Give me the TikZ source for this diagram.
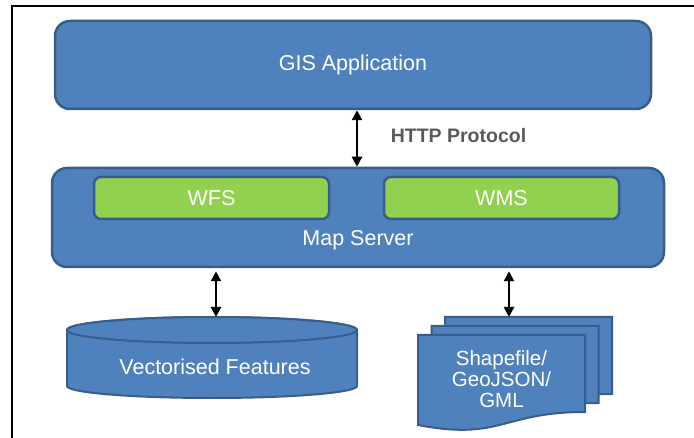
\documentclass[tikz,border=0pt]{standalone}
\usepackage{fontspec}
\setmainfont{Liberation Sans}
\usetikzlibrary{arrows.meta}

\definecolor{boxblue}{HTML}{4F81BD}
\definecolor{boxedge}{HTML}{385D8A}
\definecolor{svcgreen}{HTML}{92D050}
\definecolor{labelgray}{HTML}{595959}

\tikzset{
  boxfont/.style={font=\fontsize{21.5}{24}\selectfont},
  layer/.style={draw=boxedge, fill=boxblue, line width=2.5pt,
    rounded corners=15pt, text=white, boxfont},
  svc/.style={draw=boxedge, fill=svcgreen, line width=2.5pt,
    rounded corners=7pt, text=white, boxfont},
  store/.style={draw=boxedge, fill=boxblue, line width=2pt},
  whitelabel/.style={text=white, boxfont},
  link/.style={black, line width=2.4pt,
    {Triangle[width=10pt,length=10pt]}-{Triangle[width=10pt,length=10pt]}},
  frameline/.style={black, line width=2pt}
}

% one sheet of the stacked document symbol, top-left corner given
\newcommand\docsheet[1]{%
  \draw[store, shift={#1}] (0,0) -- (167,0) -- (167,-77)
    .. controls (83.5,-77) and (83.5,-106) .. (0,-90) -- cycle;}

\begin{document}
\begin{tikzpicture}[x=1pt, y=1pt]
  \useasboundingbox (0,0) rectangle (694,437);
  \clip (0,0) rectangle (694,437);

  % outer frame
  \draw[frameline] (11.5,-10) -- (11.5,431) -- (710,431);

  % application layer
  \node[layer, minimum width=596, minimum height=88] (gis) at (353,372) {GIS Application};

  % map server with its services
  \node[layer, minimum width=612, minimum height=99] (ms) at (358,219.5) {};
  \node[svc, minimum width=235, minimum height=42] (wfs) at (211.5,239) {WFS};
  \node[svc, minimum width=235, minimum height=42] (wms) at (501.5,239) {WMS};
  \node[whitelabel] (mslabel) at (358,197) {Map Server};

  % protocol link
  \node[text=labelgray, font=\bfseries\fontsize{19.5}{22}\selectfont] (http) at (458.5,301) {HTTP Protocol};
  \coordinate (httpx) at (357,0);
  \draw[link] (gis.south -| httpx) -- (ms.north -| httpx);

  % database cylinder
  \node[minimum width=290, minimum height=81, inner sep=0, anchor=north] (vf) at (212,120) {};
  \draw[store] (67,107) -- (67,51)
    arc[start angle=180, end angle=360, x radius=145, y radius=12]
    -- (357,107)
    arc[start angle=0, end angle=180, x radius=145, y radius=13] -- cycle;
  \draw[store] (212,107) ellipse[x radius=145, y radius=13];
  \node[whitelabel] (vflabel) at (215,70) {Vectorised Features};

  % stacked file documents
  \docsheet{(445,120)}
  \docsheet{(431.5,111)}
  \docsheet{(418,102)}
  \node[text=white, align=center, font=\fontsize{20.5}{21}\selectfont] (mdlabel) at (501.5,58)
    {Shapefile/\\GeoJSON/\\GML};
  \coordinate (mdtop) at (509,120);

  % storage links
  \coordinate (vfx) at (216,0);
  \draw[link, shorten <=3pt] (ms.south -| vfx) -- (vf.north -| vfx);
  \draw[link, shorten <=3pt] (ms.south -| mdtop) -- (mdtop);
\end{tikzpicture}
\end{document}
